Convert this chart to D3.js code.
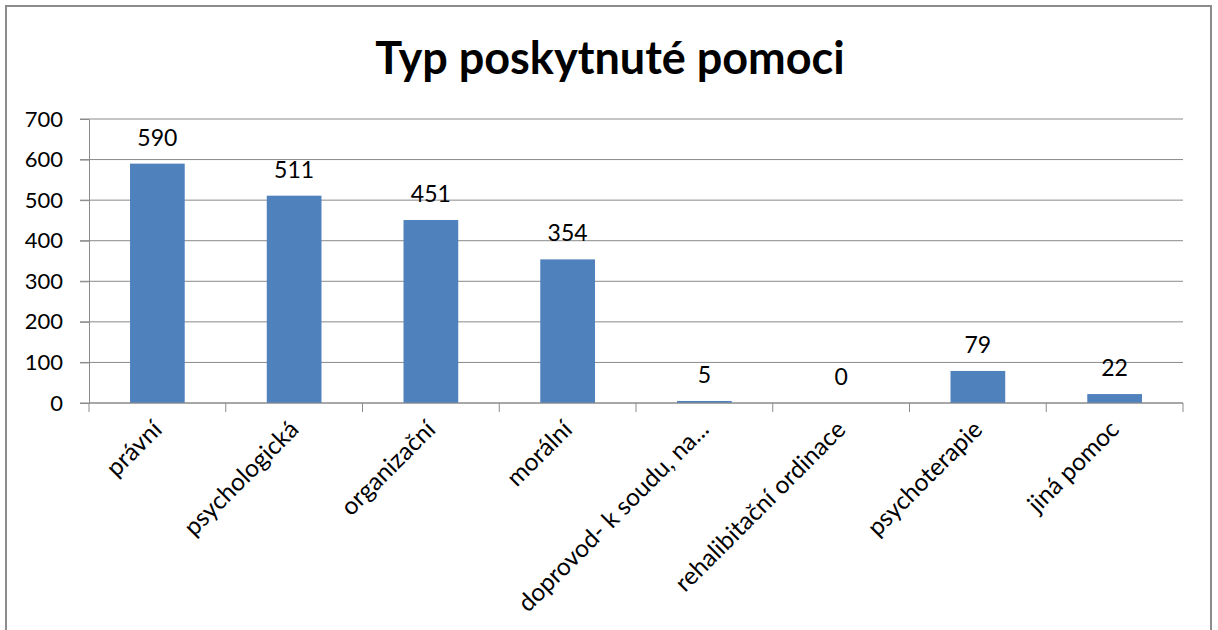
<!DOCTYPE html>
<html>
<head>
<meta charset="utf-8">
<script src="https://cdn.jsdelivr.net/npm/d3@7"></script>
<style>
  body { margin: 0; background: #fff; }
  svg { display: block; font-family: Lato, "Open Sans", sans-serif; }
</style>
</head>
<body>
<div id="chart"></div>
<script>
// data
const categories = ["právní", "psychologická", "organizační", "morální",
  "doprovod- k soudu, na...", "rehalibitační ordinace", "psychoterapie", "jiná pomoc"];
const values = [590, 511, 451, 354, 5, 0, 79, 22];
const yTicks = [0, 100, 200, 300, 400, 500, 600, 700];
const title = "Typ poskytnuté pomoci";

const width = 1218, height = 630;
const margin = { left: 89, right: 35, top: 119, bottom: 227 };

const svg = d3.select("#chart").append("svg")
  .attr("width", width)
  .attr("height", height);

// outer frame (bottom edge is cut off in the original)
svg.append("rect")
  .attr("x", 6).attr("y", 6)
  .attr("width", 1205).attr("height", 660)
  .attr("fill", "none")
  .attr("stroke", "#8c8c8c")
  .attr("stroke-width", 2);

svg.append("text")
  .attr("x", 610).attr("y", 74)
  .attr("text-anchor", "middle")
  .attr("font-size", 45)
  .attr("font-weight", "bold")
  .attr("fill", "#000")
  .text(title);

const x = d3.scaleBand()
  .domain(categories)
  .range([margin.left, width - margin.right])
  .paddingInner(0.6)
  .paddingOuter(0.3);

const y = d3.scaleLinear()
  .domain([0, 700])
  .range([height - margin.bottom, margin.top]);

// gridlines
svg.append("g")
  .selectAll("line")
  .data(yTicks)
  .join("line")
  .attr("x1", margin.left - 9)
  .attr("x2", width - margin.right)
  .attr("y1", d => y(d))
  .attr("y2", d => y(d))
  .attr("stroke", "#8a8a8a")
  .attr("stroke-width", 1);

// y axis
const yAxis = svg.append("g")
  .attr("transform", `translate(${margin.left},0)`)
  .call(d3.axisLeft(y).tickValues(yTicks).tickSize(9).tickSizeOuter(0).tickPadding(17));
yAxis.select(".domain").attr("stroke", "#8a8a8a");
yAxis.selectAll(".tick line").attr("stroke", "#8a8a8a");
yAxis.selectAll("text")
  .attr("font-size", 22)
  .attr("font-family", "Lato, sans-serif")
  .attr("fill", "#000");

// bars
svg.append("g")
  .selectAll("rect")
  .data(values)
  .join("rect")
  .attr("x", (d, i) => x(categories[i]))
  .attr("y", d => y(d))
  .attr("width", x.bandwidth())
  .attr("height", d => y(0) - y(d))
  .attr("fill", "#4f81bd");

// value labels
svg.append("g")
  .selectAll("text")
  .data(values)
  .join("text")
  .attr("x", (d, i) => x(categories[i]) + x.bandwidth() / 2)
  .attr("y", d => y(d) - 18)
  .attr("text-anchor", "middle")
  .attr("font-size", 23)
  .attr("fill", "#000")
  .text(d => d);

// x axis: ticks between categories like Excel
const boundaries = d3.range(categories.length + 1).map(i => margin.left + i * (width - margin.left - margin.right) / categories.length);
const xg = svg.append("g");
xg.append("line")
  .attr("x1", margin.left).attr("x2", width - margin.right)
  .attr("y1", y(0)).attr("y2", y(0))
  .attr("stroke", "#8a8a8a");
xg.selectAll("line.tick")
  .data(boundaries)
  .join("line")
  .attr("class", "tick")
  .attr("x1", d => d).attr("x2", d => d)
  .attr("y1", y(0)).attr("y2", y(0) + 9)
  .attr("stroke", "#8a8a8a");

xg.selectAll("text")
  .data(categories)
  .join("text")
  .attr("transform", d => `translate(${x(d) + x.bandwidth() / 2 + 6},${y(0) + 28}) rotate(-45)`)
  .attr("text-anchor", "end")
  .attr("font-size", 24.5)
  .attr("fill", "#000")
  .text(d => d);
</script>
</body>
</html>
